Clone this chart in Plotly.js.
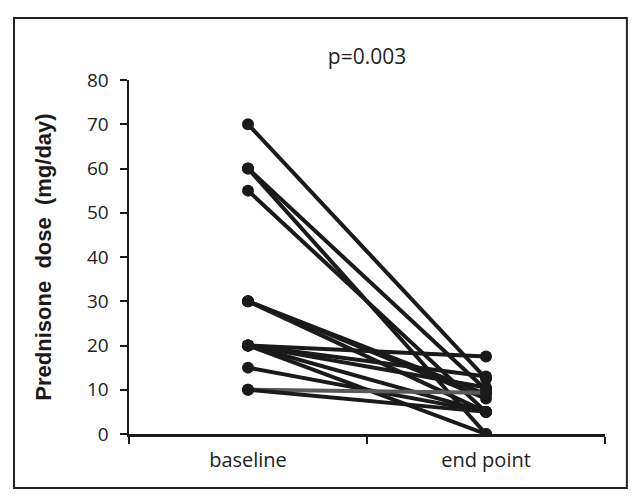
<!DOCTYPE html>
<html>
<head>
<meta charset="utf-8">
<script src="https://cdn.plot.ly/plotly-3.0.1.min.js"></script>
<style>html,body{margin:0;padding:0;background:#fff;}#chart{width:633px;height:503px;}</style>
</head>
<body>
<div id="chart"></div>
<script>
const categories = ["baseline", "end point"];
const baseline = [70, 60, 60, 55, 30, 30, 30, 20, 20, 20, 20, 20, 15, 10, 10];
const endpoint = [12.5, 10, 0, 5, 5, 8, 9, 17.5, 13, 10.5, 5, 0, 5, 9.3, 5];
const lineColors = ["#1a1a1a","#1a1a1a","#1a1a1a","#1a1a1a","#1a1a1a","#1a1a1a","#1a1a1a","#1a1a1a","#1a1a1a","#1a1a1a","#1a1a1a","#1a1a1a","#1a1a1a","#5a5a5a","#1a1a1a"];
const yTicks = [0, 10, 20, 30, 40, 50, 60, 70, 80];

const traces = baseline.map((b, i) => ({
  type: "scatter",
  mode: "lines+markers",
  x: categories,
  y: [b, endpoint[i]],
  line: {color: lineColors[i], width: 4},
  marker: {color: "#1a1a1a", size: 12},
  showlegend: false,
  hoverinfo: "skip"
}));

const layout = {
  width: 633, height: 503,
  margin: {l: 129, r: 28, t: 80, b: 69},
  paper_bgcolor: "#fff", plot_bgcolor: "#fff",
  font: {family: "Open Sans, Liberation Sans, sans-serif", color: "#222"},
  title: {text: "p=0.003", x: 0.5, xref: "paper", y: 0.888, yanchor: "middle", font: {size: 21, color: "#222"}},
  xaxis: {
    type: "category", range: [-0.5, 1.5], tickson: "boundaries",
    ticks: "outside", ticklen: 7, tickwidth: 2, tickcolor: "#1a1a1a",
    showline: true, linecolor: "#1a1a1a", linewidth: 2.5, showgrid: false, zeroline: false,
    ticklabelstandoff: 6,
    tickfont: {size: 20, color: "#222"}
  },
  yaxis: {
    range: [0, 80], tickvals: yTicks, ticks: "outside", ticklen: 7, tickwidth: 2, tickcolor: "#1a1a1a",
    showline: true, linecolor: "#1a1a1a", linewidth: 2.5, showgrid: false, zeroline: false,
    ticklabelstandoff: 7,
    tickfont: {size: 19, color: "#222"},
    title: {text: "Prednisone  dose  (mg/day)", standoff: 30, font: {size: 22, color: "#1a1a1a", family: "Liberation Sans, Arial, sans-serif", weight: "bold"}}
  },
  shapes: [{
    type: "rect", xref: "paper", yref: "paper",
    x0: -0.2416, x1: 1.046, y0: -0.1525, y1: 1.175,
    line: {color: "#222", width: 2}, fillcolor: "rgba(0,0,0,0)"
  }]
};

Plotly.newPlot("chart", traces, layout, {displayModeBar: false, staticPlot: true});
</script>
</body>
</html>
